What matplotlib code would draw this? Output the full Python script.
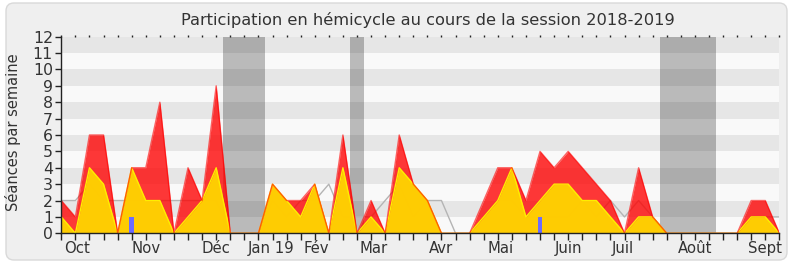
import numpy as np
import matplotlib
matplotlib.use("Agg")
import matplotlib.pyplot as plt
from matplotlib.patches import FancyBboxPatch
from matplotlib.transforms import IdentityTransform, blended_transform_factory

# weekly values, session 2018-2019 (52 weeks)
presences = [2, 1, 6, 6, 0, 4, 4, 8, 0, 4, 2, 9, 0, 0, 0, 3, 2, 2, 3, 0,
             6, 0, 2, 0, 6, 3, 2, 0, 0, 0, 2, 4, 4, 2, 5, 4, 5, 4, 3, 2,
             0, 4, 1, 0, 0, 0, 0, 0, 0, 2, 2, 0]
interventions = [1, 0, 4, 3, 0, 4, 2, 2, 0, 1, 2, 4, 0, 0, 0, 3, 2, 1, 3, 0,
                 4, 0, 1, 0, 4, 3, 2, 0, 0, 0, 1, 2, 4, 1, 2, 3, 3, 2, 2, 1,
                 0, 1, 1, 0, 0, 0, 0, 0, 0, 1, 1, 0]
mediane = [2, 2, 3, 2, 2, 2, 2, 2, 2, 2, 2, 2, 0, 0, 0, 2, 1, 2, 2, 3,
           1, 1, 1, 2, 3, 1, 2, 2, 0, 0, 1, 2, 2, 1, 1, 1, 1, 2, 1, 2,
           1, 2, 1, 0, 0, 0, 0, 0, 0, 1, 1, 1]
question_weeks = [5, 34]
question_vals = [1, 1]

# parliamentary breaks (week ranges)
vacances = [(11.5, 14.5), (20.5, 21.5), (42.5, 46.5)]

month_labels = ["Oct", "Nov", "Déc", "Jan 19", "Fév", "Mar", "Avr", "Mai",
                "Juin", "Juil", "Août", "Sept"]
month_pos = [1.15, 6.0, 11.0, 14.9, 18.1, 22.2, 27.0, 31.2, 36.0, 39.9, 45.0, 50.0]

weeks = np.arange(len(presences))
txt = "#333333"

fig = plt.figure(figsize=(7.9, 2.67), dpi=100, facecolor="white")

# rounded panel behind everything
panel = FancyBboxPatch((6, 7), 781, 257, boxstyle="round,pad=0,rounding_size=8",
                       transform=IdentityTransform(), facecolor="#efefef",
                       edgecolor="#d9d9d9", linewidth=1, zorder=-10)
fig.patches.append(panel)

ax = fig.add_axes([61.3 / 790, 33.7 / 267, 718.1 / 790, 196.6 / 267])
ax.set_facecolor("#f9f9f9")
ax.set_xlim(0, len(presences) - 1)
ax.set_ylim(0, 12)

for y0 in range(1, 12, 2):
    ax.axhspan(y0, y0 + 1, color="#e6e6e6", lw=0, zorder=0)
for a, b in vacances:
    ax.axvspan(a, b, color="black", alpha=0.25, lw=0, zorder=1)

ax.plot(weeks, mediane, color="#b4b4b4", lw=1.0, zorder=2)
ax.fill_between(weeks, presences, color="#ff0000", alpha=0.78, lw=0, zorder=3)
ax.fill_between(weeks, interventions, color="#ffd500", alpha=0.95, lw=0, zorder=4)
ax.plot(weeks, interventions, color="#ffee00", lw=1.0, zorder=5)
ax.plot(weeks, presences, color="#ff0000", lw=1.0, alpha=0.6, zorder=6)
ax.bar(question_weeks, question_vals, width=0.35, color="#6b6bff", zorder=7)

for s in ["top", "right"]:
    ax.spines[s].set_visible(False)
for s in ["left", "bottom"]:
    ax.spines[s].set_color("#222222")
    ax.spines[s].set_linewidth(1.0)
    ax.spines[s].set_zorder(8)

ax.set_yticks(range(0, 13))
ax.tick_params(axis="y", direction="out", length=4, width=1, color="#222222",
               labelsize=11.3, labelcolor=txt, pad=2)
ax.set_xticks(weeks)
ax.set_xticklabels([])
ax.tick_params(axis="x", which="major", direction="out", length=5, width=1,
               color="#222222")

# month labels under the week ticks
trans = blended_transform_factory(ax.transData, ax.transAxes)
for pos, lab in zip(month_pos, month_labels):
    ax.text(pos, -0.04, lab, transform=trans, ha="center", va="top",
            fontsize=10.7, color=txt)

top = ax.secondary_xaxis("top")
top.set_xticks(weeks)
top.set_xticklabels([])
top.tick_params(direction="out", length=1.5, width=1, color="#222222")
top.spines["top"].set_visible(False)

fig.text(13 / 790, 0.504, "Séances par semaine", rotation=90, ha="center",
         va="center", fontsize=10.5, color=txt)
fig.text(0.542, 0.925, "Participation en hémicycle au cours de la session 2018-2019",
         ha="center", va="center", fontsize=11.7, color=txt)

fig.savefig("out.png", dpi=100, facecolor="white")
